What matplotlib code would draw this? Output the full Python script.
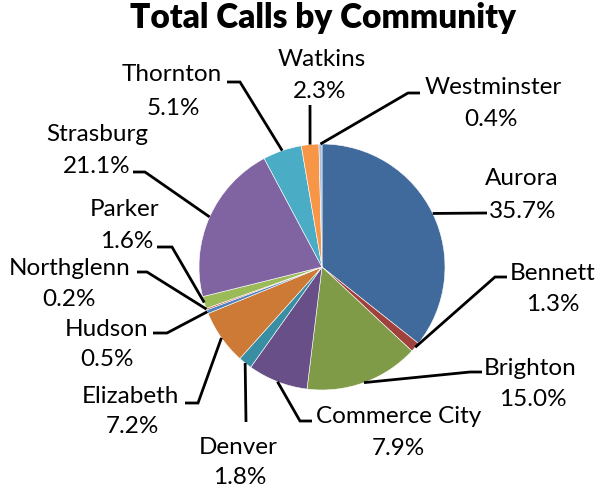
import matplotlib
matplotlib.use("Agg")
import matplotlib.pyplot as plt
import numpy as np

# ---- data ----
communities = ["Aurora", "Bennett", "Brighton", "Commerce City", "Denver",
               "Elizabeth", "Hudson", "Northglenn", "Parker", "Strasburg",
               "Thornton", "Watkins", "Westminster"]
percents = [35.7, 1.3, 15.0, 7.9, 1.8, 7.2, 0.5, 0.2, 1.6, 21.1, 5.1, 2.3, 0.4]
colors = ["#416A9C", "#A0413E", "#7F9B48", "#684F87", "#3A8EA4", "#CC7A36",
          "#4F81BD", "#C0504D", "#9BBB59", "#8064A2", "#4BACC6", "#F79646",
          "#A7BEDE"]
title = "Total Calls by Community"

# ---- layout (pixel coords, y down) ----
W, H = 601, 488
CX, CY, R = 322, 267, 123
# label: (name center x, name baseline y, pct center x, pct baseline y)
label_pos = {
    "Aurora": (522, 185, 523, 218),
    "Bennett": (553, 280, 553, 311),
    "Brighton": (530, 375, 533, 406),
    "Commerce City": (399, 423, 398, 455),
    "Denver": (238, 454, 240, 484),
    "Elizabeth": (130, 403, 132, 433),
    "Hudson": (107, 336, 107, 366),
    "Northglenn": (70, 275, 69, 306),
    "Parker": (125, 216, 127, 248),
    "Strasburg": (97, 141, 97, 173),
    "Thornton": (172, 81, 173, 115),
    "Watkins": (322, 66, 320, 98),
    "Westminster": (493, 94, 491, 126),
}
# leader line outer points (after the anchor on the pie edge)
leaders = {
    "Aurora": [(487, 213)],
    "Bennett": [(495, 277), (507, 277)],
    "Brighton": [(470, 372), (482, 372)],
    "Commerce City": [(300, 421), (312, 421)],
    "Denver": [(246, 422)],
    "Elizabeth": [(198, 403), (185, 403)],
    "Hudson": [(167, 333), (153, 333)],
    "Northglenn": [(147, 272), (137, 272)],
    "Parker": [(172, 247), (157, 247)],
    "Strasburg": [(145, 172), (133, 172)],
    "Thornton": [(240, 82), (227, 82)],
    "Watkins": [(310, 105)],
    "Westminster": [(408, 93), (420, 93)],
}

def P(x, y):
    return x, H - y

plt.rcParams['font.family'] = ['Lato', 'DejaVu Sans']
fig = plt.figure(figsize=(W / 100, H / 100), dpi=100)
ax = fig.add_axes([0, 0, 1, 1])
wedges, _ = ax.pie(percents, colors=colors, startangle=90, counterclock=False,
                   center=P(CX, CY), radius=R,
                   wedgeprops=dict(edgecolor="white", linewidth=0.4))
ax.set_xlim(0, W)
ax.set_ylim(0, H)
ax.set_aspect('equal')
ax.axis('off')

for name, pct, w in zip(communities, percents, wedges):
    mid = np.deg2rad((w.theta1 + w.theta2) / 2)
    ax_x = w.center[0] + R * np.cos(mid)
    ax_y = w.center[1] + R * np.sin(mid)
    pts = [(ax_x, ax_y)] + [P(*p) for p in leaders[name]]
    xs, ys = zip(*pts)
    ax.plot(xs, ys, color="black", lw=2, solid_capstyle="butt",
            solid_joinstyle="miter")
    nx, ny, px, py = label_pos[name]
    ax.text(*P(nx, ny), name, ha="center", va="baseline", fontsize=17.5,
            color="black")
    ax.text(*P(px, py), f"{pct:.1f}%", ha="center", va="baseline",
            fontsize=17.5, color="black")

ax.text(*P(323, 28), title, ha="center", va="baseline", fontsize=24,
        fontweight="heavy", color="black")

fig.savefig("out.png", dpi=100)
